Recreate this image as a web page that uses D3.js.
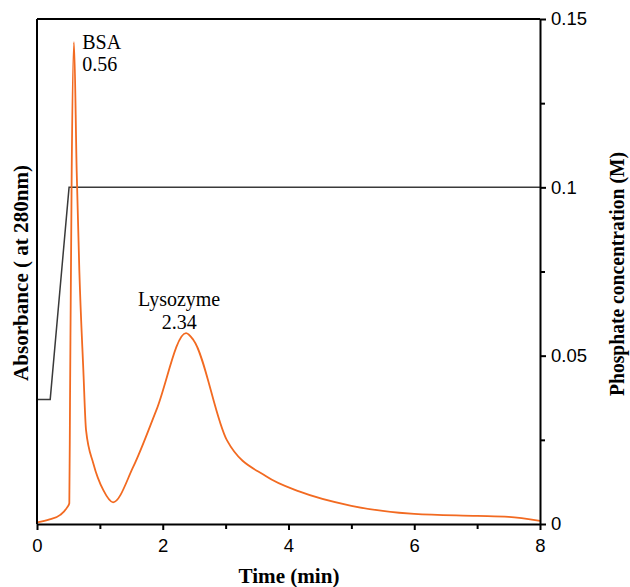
<!DOCTYPE html>
<html>
<head>
<meta charset="utf-8">
<script src="https://cdn.jsdelivr.net/npm/d3@7"></script>
<style>
  body { margin: 0; background: #fff; }
  svg { display: block; }
</style>
</head>
<body>
<div id="chart"></div>
<script>
// absorbance trace (arbitrary units, 0..1 of the left axis)
const absTime = [0, 0.2, 0.37, 0.48, 0.514, 0.525, 0.552, 0.588, 0.631, 0.673, 0.737, 0.78, 0.896, 1.055, 1.21,
                 1.53, 1.9, 2.37, 2.49, 3.02, 3.65, 4.18, 5.0, 6.0, 7.0, 7.5, 8.0];
const absValue = [0.003, 0.009, 0.018, 0.033, 0.041, 0.24, 0.70, 0.954, 0.70, 0.503, 0.305, 0.186, 0.12, 0.067, 0.043,
                  0.113, 0.226, 0.378, 0.364, 0.166, 0.094, 0.064, 0.036, 0.02, 0.016, 0.014, 0.006];

// phosphate gradient (M)
const gradTime = [0, 0.21, 0.51, 8];
const gradConc = [0.037, 0.037, 0.1, 0.1];

const xTicks = [0, 2, 4, 6, 8];
const xMinorTicks = [1, 3, 5, 7];
const rightTicks = [0, 0.05, 0.1, 0.15];
const rightTickLabels = ["0", "0.05", "0.1", "0.15"];
const rightMinorTicks = [0.025, 0.075, 0.125];

const peakLabels = [
    { lines: ["BSA", "0.56"], t: 0.56 },
    { lines: ["Lysozyme", "2.34"], t: 2.34 }
];

const width = 630, height = 587;
const margin = { top: 19, right: 90, bottom: 63, left: 37 };
const innerW = width - margin.left - margin.right;
const innerH = height - margin.top - margin.bottom;
const serif = "'Liberation Serif', 'Times New Roman', serif";

const svg = d3.select("#chart").append("svg")
    .attr("width", width)
    .attr("height", height);

const g = svg.append("g")
    .attr("transform", `translate(${margin.left},${margin.top})`);

const x = d3.scaleLinear().domain([0, 8]).range([0, innerW]);
const yAbs = d3.scaleLinear().domain([0, 1]).range([innerH, 0]);
const yConc = d3.scaleLinear().domain([0, 0.15]).range([innerH, 0]);

// gradient line
const gradData = gradTime.map((t, i) => ({ t, v: gradConc[i] }));
g.append("path")
    .datum(gradData)
    .attr("fill", "none")
    .attr("stroke", "#3a3a3a")
    .attr("stroke-width", 1.5)
    .attr("d", d3.line().x(d => x(d.t)).y(d => yConc(d.v)));

// absorbance
const absData = absTime.map((t, i) => ({ t, v: absValue[i] }));
g.append("path")
    .datum(absData)
    .attr("fill", "none")
    .attr("stroke", "#f26a21")
    .attr("stroke-width", 1.8)
    .attr("d", d3.line().curve(d3.curveMonotoneX).x(d => x(d.t)).y(d => yAbs(d.v)));

// frame: top and left
g.append("line").attr("x1", 0).attr("x2", innerW).attr("y1", 0).attr("y2", 0)
    .attr("stroke", "#000").attr("stroke-width", 2);
g.append("line").attr("x1", 0).attr("x2", 0).attr("y1", 0).attr("y2", innerH)
    .attr("stroke", "#000").attr("stroke-width", 2);

// bottom axis
const xAxis = g.append("g")
    .attr("transform", `translate(0,${innerH})`)
    .call(d3.axisBottom(x).tickValues(xTicks).tickSize(6).tickSizeOuter(0).tickFormat(d3.format("d")));
g.append("g")
    .attr("transform", `translate(0,${innerH})`)
    .call(d3.axisBottom(x).tickValues(xMinorTicks).tickSize(5).tickFormat(""))
    .call(a => a.select(".domain").remove());

// right axis
const rAxis = g.append("g")
    .attr("transform", `translate(${innerW},0)`)
    .call(d3.axisRight(yConc).tickValues(rightTicks).tickSize(6).tickSizeOuter(0)
        .tickFormat((d, i) => rightTickLabels[i]));
g.append("g")
    .attr("transform", `translate(${innerW},0)`)
    .call(d3.axisRight(yConc).tickValues(rightMinorTicks).tickSize(5).tickFormat(""))
    .call(a => a.select(".domain").remove());

g.selectAll(".domain, .tick line")
    .attr("stroke", "#000")
    .attr("stroke-width", 2);
g.selectAll(".tick text")
    .attr("fill", "#000")
    .style("font-family", "'Liberation Sans', Arial, sans-serif")
    .style("font-size", "18.5px");
xAxis.selectAll(".tick text").attr("dy", "1.0em");
rAxis.selectAll(".tick text").attr("x", 11);

// axis titles
function title(tf, txt, len) {
    svg.append("text")
        .attr("transform", tf)
        .attr("text-anchor", "middle")
        .attr("textLength", len)
        .attr("lengthAdjust", "spacingAndGlyphs")
        .style("font-family", serif)
        .style("font-weight", "bold")
        .style("font-size", "20px")
        .text(txt);
}
title("translate(289,583)", "Time (min)", 101);
title("translate(28,273) rotate(-90)", "Absorbance ( at 280nm)", 216);
title("translate(624,274) rotate(-90)", "Phosphate concentration (M)", 244);

// peak annotations
const bsa = g.append("text")
    .attr("y", 30)
    .style("font-family", serif)
    .style("font-size", "20px");
peakLabels[0].lines.forEach((s, i) => bsa.append("tspan")
    .attr("x", x(peakLabels[0].t) + 10).attr("dy", i ? 22 : 0).text(s));

const lys = g.append("text")
    .attr("y", 287)
    .attr("text-anchor", "middle")
    .style("font-family", serif)
    .style("font-size", "20px");
peakLabels[1].lines.forEach((s, i) => lys.append("tspan")
    .attr("x", x(peakLabels[1].t) - 5).attr("dy", i ? 23 : 0).text(s));
</script>
</body>
</html>
